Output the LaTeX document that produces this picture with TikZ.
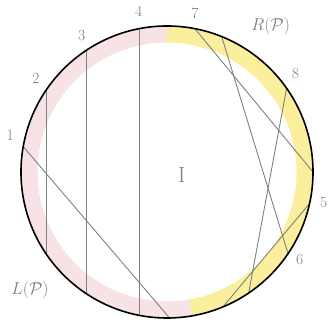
\documentclass[tikz,border=0pt]{standalone}
\usepackage{xcolor}
\usepackage{tikz}
\usetikzlibrary{calc}
\usepackage{amsmath}
\definecolor{PinkBand}{HTML}{F7E2E5}
\definecolor{YellowBand}{HTML}{FBEF9E}
\definecolor{ChordGray}{HTML}{808080}
\definecolor{LabelGray}{HTML}{7E7E7E}
\newcommand{\numfont}{\fontsize{15.5}{18}\selectfont}
\newcommand{\mathlabfont}{\fontsize{17}{20}\selectfont}
\newcommand{\bigfont}{\fontsize{22}{26}\selectfont}
\newcommand{\circR}{146}
\tikzset{
  chord/.style={draw=ChordGray, line width=0.9pt},
  numlab/.style={font=\numfont, text=LabelGray, inner sep=0pt},
}

\begin{document}
\begin{tikzpicture}[x=1pt,y=1pt]
  \useasboundingbox (0,0) rectangle (329,320);
  \coordinate (O) at (167,148);
  % bandes colorees
  \draw[PinkBand, line width=16pt] ($(O)+(90:137.5)$) arc[start angle=90, end angle=280, radius=137.5];
  \draw[YellowBand, line width=16pt] ($(O)+(280:137.5)$) arc[start angle=280, end angle=450, radius=137.5];
  \foreach \n/\a/\b/\l/\r in {
    1/170/271/167/161,
    2/146/214/144.5/161,
    3/123.7/236.3/122/161,
    4/101/259/100/163,
    7/79/0/80/161,
    8/35/-56/37.5/162,
    5/-12.5/-67.5/-11/159.5,
    6/68/-34/-33.5/159}{
    \coordinate (c\n a) at ($(O)+(\a:\circR)$);
    \coordinate (c\n b) at ($(O)+(\b:\circR)$);
    \draw[chord] (c\n a) -- (c\n b);
    \node[numlab] (n\n) at ($(O)+(\l:\r)$) {\n};
  }
  \draw[black, line width=1.6pt] (O) circle[radius=\circR];
  \node[font=\bigfont, text=LabelGray] (mid) at (181.7,145) {I};
  \node[font=\mathlabfont, text=LabelGray] (rp) at (270.7,294) {$R(\mathcal{P})$};
  \node[font=\mathlabfont, text=LabelGray] (lp) at (30,30) {$L(\mathcal{P})$};
\end{tikzpicture}
\end{document}
